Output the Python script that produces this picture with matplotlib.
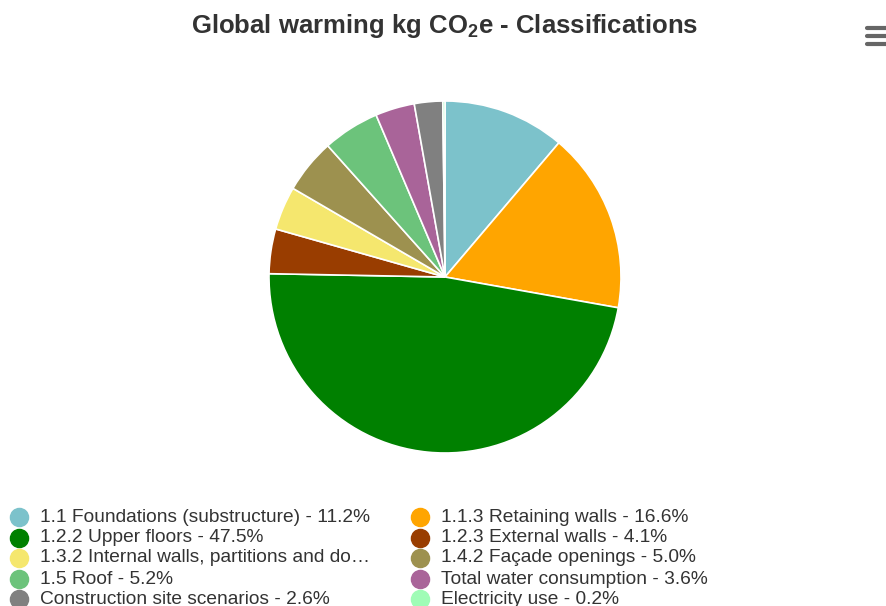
import matplotlib
matplotlib.use("Agg")
import matplotlib.pyplot as plt

# classification shares of global warming potential (%)
labels = [
    "1.1 Foundations (substructure)",
    "1.1.3 Retaining walls",
    "1.2.2 Upper floors",
    "1.2.3 External walls",
    "1.3.2 Internal walls, partitions and doors",
    "1.4.2 Façade openings",
    "1.5 Roof",
    "Total water consumption",
    "Construction site scenarios",
    "Electricity use",
]
shares = [11.2, 16.6, 47.5, 4.1, 4.0, 5.0, 5.2, 3.6, 2.6, 0.2]
colors = ["#7cc2cb", "#ffa500", "#008000", "#993d00", "#f5e76e",
          "#9d914f", "#6cc37b", "#a96499", "#808080", "#9ffcb6"]

W, H = 886, 606
plt.rcParams["font.family"] = ["Liberation Sans", "DejaVu Sans"]

fig = plt.figure(figsize=(W / 100, H / 100), dpi=100)

# pie
cx, cy, r = 445, 277, 176
box = 200
ax = fig.add_axes([(cx - box) / W, (H - cy - box) / H, 2 * box / W, 2 * box / H])
ax.pie(shares, colors=colors, startangle=90, counterclock=False, radius=r,
       center=(0, 0), wedgeprops=dict(edgecolor="white", linewidth=1.2))
ax.set_xlim(-box, box)
ax.set_ylim(-box, box)
ax.set_aspect("equal")
ax.axis("off")

# overlay in pixel coordinates for title, legend and menu icon
ov = fig.add_axes([0, 0, 1, 1], zorder=5)
ov.set_xlim(0, W)
ov.set_ylim(H, 0)
ov.axis("off")

ov.text(445, 26, r"Global warming kg CO$_\mathregular{2}$e - Classifications",
        ha="center", va="center", fontsize=18.5, fontweight="bold", color="#333333")

# hamburger menu
for yy in (28, 36, 44):
    ov.plot([867, 886], [yy, yy], color="#666666", lw=3, solid_capstyle="round")


def legend_text(name, val, limit=39):
    # long names get cut with an ellipsis, like the web legend does
    if len(name) > limit + 1:
        return name[:limit] + "…"
    return f"{name} - {val:.1f}%"


col_x = [19, 420]
row_y = [517, 538, 558, 579, 599]
for i, (lab, val, c) in enumerate(zip(labels, shares, colors)):
    col, row = i % 2, i // 2
    x, y = col_x[col], row_y[row]
    ov.scatter([x], [y], s=170, color=c, zorder=6)
    ov.text(x + 21, y, legend_text(lab, val), ha="left", va="center",
            fontsize=13.8, color="#333333")

fig.savefig("out.png", dpi=100, facecolor="white")
